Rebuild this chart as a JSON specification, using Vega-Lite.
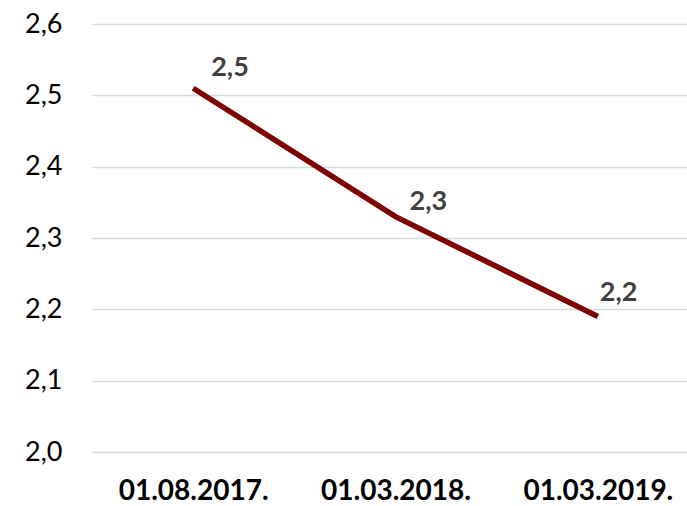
{
  "$schema": "https://vega.github.io/schema/vega-lite/v6.json",
  "width": 607,
  "height": 428,
  "autosize": {"type": "none"},
  "padding": {"left": 92, "top": 24, "right": 0, "bottom": 54},
  "background": "white",
  "config": {"view": {"stroke": null}, "font": "Lato"},
  "data": {"values": [
    {"date": "01.08.2017.", "value": 2.51, "label": "2,5"},
    {"date": "01.03.2018.", "value": 2.33, "label": "2,3"},
    {"date": "01.03.2019.", "value": 2.19, "label": "2,2"}
  ]},
  "encoding": {
    "x": {"field": "date", "type": "ordinal", "sort": null,
      "axis": {"title": null, "labelAngle": 0, "domain": false, "ticks": false,
        "labelFont": "Lato", "labelFontSize": 28, "labelFontWeight": "bold", "labelColor": "#000000", "labelPadding": 25}},
    "y": {"field": "value", "type": "quantitative",
      "scale": {"domain": [2.0, 2.6], "nice": false, "zero": false},
      "axis": {"title": null, "values": [2.0, 2.1, 2.2, 2.3, 2.4, 2.5, 2.6], "domain": false, "ticks": false,
        "labelExpr": "replace(format(datum.value, '.1f'), '.', ',')",
        "labelFont": "Lato", "labelFontSize": 27, "labelColor": "#000000", "labelPadding": 30,
        "gridColor": "#d9d9d9", "gridWidth": 1.5}}
  },
  "layer": [
    {"mark": {"type": "line", "color": "#7f0000", "strokeWidth": 5.5, "strokeCap": "butt"}},
    {"transform": [{"filter": "datum.date == '01.08.2017.'"}],
     "mark": {"type": "text", "align": "left", "baseline": "alphabetic", "dx": 18, "dy": -12, "font": "Lato", "fontSize": 27, "fontWeight": "bold", "color": "#404040"},
     "encoding": {"text": {"field": "label"}}},
    {"transform": [{"filter": "datum.date == '01.03.2018.'"}],
     "mark": {"type": "text", "align": "left", "baseline": "alphabetic", "dx": 14, "dy": -7, "font": "Lato", "fontSize": 27, "fontWeight": "bold", "color": "#404040"},
     "encoding": {"text": {"field": "label"}}},
    {"transform": [{"filter": "datum.date == '01.03.2019.'"}],
     "mark": {"type": "text", "align": "left", "baseline": "alphabetic", "dx": 2, "dy": -15, "font": "Lato", "fontSize": 27, "fontWeight": "bold", "color": "#404040"},
     "encoding": {"text": {"field": "label"}}}
  ]
}
